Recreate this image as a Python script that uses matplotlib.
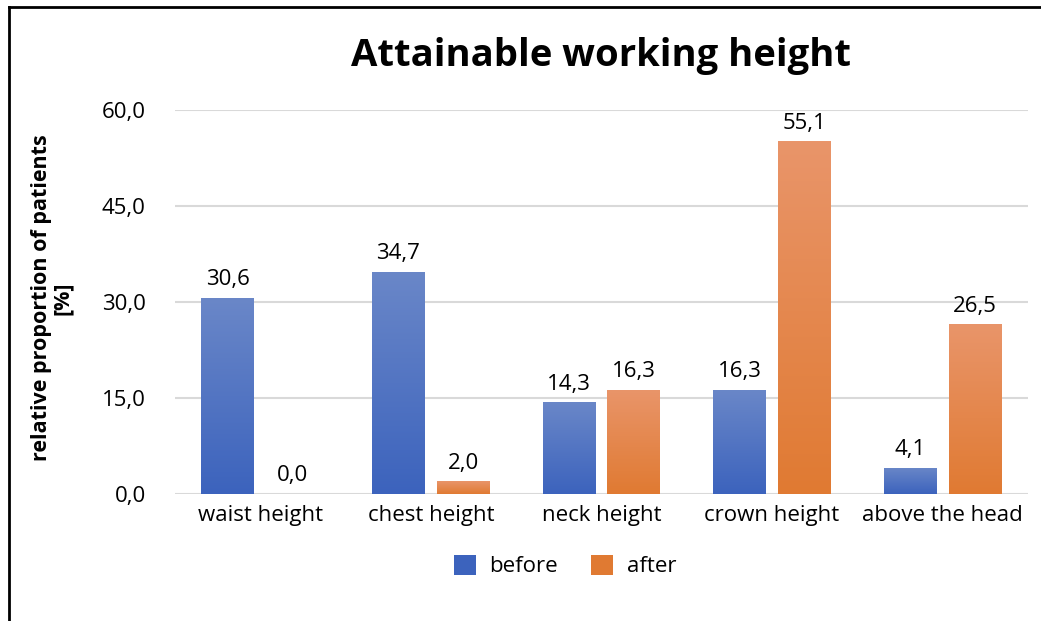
import matplotlib
matplotlib.use('Agg')
import matplotlib.pyplot as plt
import numpy as np
from matplotlib.colors import LinearSegmentedColormap
from matplotlib.patches import Patch
from matplotlib.lines import Line2D

categories = ['waist height', 'chest height', 'neck height', 'crown height', 'above the head']
before = [30.6, 34.7, 14.3, 16.3, 4.1]
after = [0.0, 2.0, 16.3, 55.1, 26.5]
series_names = ['before', 'after']
y_ticks = [0, 15, 30, 45, 60]

plt.rcParams['font.family'] = ['Open Sans', 'DejaVu Sans']

blue_top, blue_bot = '#6a87c8', '#3c63bd'
orange_top, orange_bot = '#e9956a', '#e07a32'

fig = plt.figure(figsize=(10.41, 6.21), dpi=100)
ax = fig.add_axes([0.168, 0.2045, 0.8195, 0.6184])

x = np.arange(len(categories))
width = 0.31
offset = 0.19


def gradient_bars(xpos, values, top, bot):
    bars = ax.bar(xpos, values, width, color=bot, zorder=2, linewidth=0)
    cmap = LinearSegmentedColormap.from_list('g', [bot, top])
    grad = np.linspace(0, 1, 256).reshape(-1, 1)
    for b in bars:
        h = b.get_height()
        if h <= 0:
            continue
        x0 = b.get_x()
        img = ax.imshow(grad, extent=[x0, x0 + b.get_width(), 0, h], origin='lower',
                        aspect='auto', cmap=cmap, zorder=3)
        img.set_clip_path(b)
    return bars


gradient_bars(x - offset, before, blue_top, blue_bot)
gradient_bars(x + offset, after, orange_top, orange_bot)

for xi, v in zip(x - offset, before):
    ax.text(xi, v + 1.2, f'{v:.1f}'.replace('.', ','), ha='center', va='bottom', fontsize=16)
for xi, v in zip(x + offset, after):
    ax.text(xi, v + 1.2, f'{v:.1f}'.replace('.', ','), ha='center', va='bottom', fontsize=16)

ax.set_xlim(-0.5, len(categories) - 0.5)
ax.set_ylim(0, 60)
ax.set_yticks(y_ticks)
ax.set_yticklabels([f'{t:.1f}'.replace('.', ',') for t in y_ticks], fontsize=16)
ax.set_xticks(x)
ax.set_xticklabels(categories, fontsize=16)
ax.tick_params(length=0, pad=8)
ax.tick_params(axis='y', pad=21)
ax.grid(axis='y', color='#d9d9d9', linewidth=1.5, zorder=0)
ax.set_axisbelow(True)
for s in ax.spines.values():
    s.set_visible(False)

fig.text(52 / 1041, 1 - 298 / 621, 'relative proportion of patients\n[%]', rotation=90,
         ha='center', va='center', multialignment='center', fontsize=15.5,
         fontweight='bold', linespacing=1.0)

fig.text(0.577, 0.91, 'Attainable working height', ha='center', va='center',
         fontsize=27.5, fontweight='bold')

handles = [Patch(facecolor=blue_bot), Patch(facecolor=orange_bot)]
fig.legend(handles, series_names, loc='center', bbox_to_anchor=(565 / 1041, 1 - 566 / 621),
           ncol=2, frameon=False, fontsize=16, handlelength=1.0, handleheight=1.0,
           columnspacing=1.5, handletextpad=0.6)

# frame lines (left and top) as in the reference screenshot
fig.add_artist(Line2D([8.5 / 1041, 8.5 / 1041], [0, 1 - 7 / 621], color='black', linewidth=2,
                      transform=fig.transFigure))
fig.add_artist(Line2D([8.5 / 1041, 1], [1 - 7 / 621, 1 - 7 / 621], color='black', linewidth=2,
                      transform=fig.transFigure))

fig.savefig('out.png', dpi=100)
